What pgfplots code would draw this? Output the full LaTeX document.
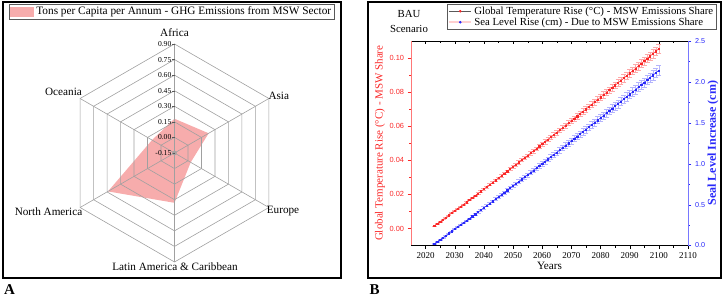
\documentclass[border=0pt]{standalone}
\usepackage{fontspec}
\setmainfont{Liberation Serif}
\setsansfont{Liberation Sans}
\usepackage{pgfplots}
\pgfplotsset{compat=1.18}
\usepackage{pgfplotstable}
\definecolor{pinkfill}{RGB}{247,172,172}
\definecolor{gridgray}{RGB}{160,160,160}
\definecolor{myred}{RGB}{250,40,40}
\definecolor{myredl}{RGB}{255,120,120}
\definecolor{myblue}{RGB}{40,40,250}
\definecolor{mybluel}{RGB}{120,120,255}
\newcommand{\fs}[1]{\fontsize{#1bp}{#1bp}\selectfont}
\pgfplotsset{/pgf/number format/assume math mode=true}

\pgfplotstableread{
region angle value
Africa 90 0.18
Asia 30 0.23
Europe -30 0.03
LatAm -90 0.33
NorthAm 210 0.59
Oceania 150 0.10
Africa 90 0.18
}\radar

\pgfplotstableread{
year temp sea
2023 0.0015 0.021
2024 0.0028 0.046
2025 0.0040 0.072
2026 0.0053 0.097
2027 0.0065 0.123
2028 0.0078 0.149
2029 0.0091 0.175
2030 0.0103 0.200
2031 0.0116 0.226
2032 0.0129 0.252
2033 0.0141 0.278
2034 0.0154 0.304
2035 0.0167 0.330
2036 0.0180 0.357
2037 0.0193 0.383
2038 0.0205 0.409
2039 0.0218 0.435
2040 0.0231 0.462
2041 0.0244 0.488
2042 0.0257 0.515
2043 0.0270 0.541
2044 0.0283 0.568
2045 0.0296 0.594
2046 0.0309 0.621
2047 0.0323 0.648
2048 0.0336 0.675
2049 0.0349 0.702
2050 0.0362 0.728
2051 0.0375 0.755
2052 0.0388 0.782
2053 0.0402 0.809
2054 0.0415 0.837
2055 0.0428 0.864
2056 0.0442 0.891
2057 0.0455 0.918
2058 0.0468 0.946
2059 0.0482 0.973
2060 0.0495 1.000
2061 0.0509 1.028
2062 0.0522 1.055
2063 0.0536 1.083
2064 0.0549 1.111
2065 0.0563 1.138
2066 0.0577 1.166
2067 0.0590 1.194
2068 0.0604 1.222
2069 0.0618 1.250
2070 0.0631 1.278
2071 0.0645 1.306
2072 0.0659 1.334
2073 0.0673 1.362
2074 0.0686 1.390
2075 0.0700 1.418
2076 0.0714 1.447
2077 0.0728 1.475
2078 0.0742 1.503
2079 0.0756 1.532
2080 0.0770 1.560
2081 0.0784 1.589
2082 0.0798 1.618
2083 0.0812 1.646
2084 0.0826 1.675
2085 0.0840 1.704
2086 0.0854 1.732
2087 0.0868 1.761
2088 0.0882 1.790
2089 0.0897 1.819
2090 0.0911 1.848
2091 0.0925 1.877
2092 0.0939 1.906
2093 0.0954 1.936
2094 0.0968 1.965
2095 0.0982 1.994
2096 0.0997 2.024
2097 0.1011 2.053
2098 0.1026 2.082
2099 0.1040 2.112
2100 0.1055 2.141
}\bau

\pgfplotsset{rc/.style={at={(411bp,53.5bp)}, anchor=south west, scale only axis,
  width=277bp, height=204.5bp, xmin=2015, xmax=2110,
  major tick length=3.5bp, minor tick length=2bp}}

\begin{document}
\begin{tikzpicture}
\useasboundingbox (0,0) rectangle (724bp,299bp);
\draw[line width=1.2bp] (3bp,21bp) rectangle (341bp,297bp);
\draw[line width=1.2bp] (368bp,21bp) rectangle (721bp,297bp);
\node[font=\bfseries\fs{15}] at (9.5bp,9bp) {A};
\node[font=\bfseries\fs{15}] at (374.5bp,9bp) {B};

% ---------- Radar chart ----------
\begin{axis}[at={(174.5bp,146bp)}, anchor=center, scale only axis,
  width=218bp, height=218bp, xmin=-1.05, xmax=1.05, ymin=-1.05, ymax=1.05,
  hide axis, clip=false,
  legend style={at={(axis description cs:-0.259,1.183)}, anchor=north west,
    draw=gray!70!black, line width=0.6bp, font=\fs{11.3},
    inner xsep=1bp, inner ysep=0.5bp},
  legend cell align=left]
\addplot[fill=pinkfill, draw=none, data cs=polar,
  legend image code/.code={\fill[pinkfill] (0bp,-5bp) rectangle (24bp,5bp);}]
  table[x=angle, y expr=\thisrow{value}+0.15] {\radar};
\addlegendentry{Tons per Capita per Annum - GHG Emissions from MSW Sector}
\addplot[gridgray, line width=0.6bp, data cs=polar, forget plot] coordinates {(90,1.05)(30,1.05)(-30,1.05)(-90,1.05)(-150,1.05)(150,1.05)(90,1.05)};
\addplot[gridgray, line width=0.6bp, data cs=polar, forget plot] coordinates {(90,0.90)(30,0.90)(-30,0.90)(-90,0.90)(-150,0.90)(150,0.90)(90,0.90)};
\addplot[gridgray, line width=0.6bp, data cs=polar, forget plot] coordinates {(90,0.75)(30,0.75)(-30,0.75)(-90,0.75)(-150,0.75)(150,0.75)(90,0.75)};
\addplot[gridgray, line width=0.6bp, data cs=polar, forget plot] coordinates {(90,0.60)(30,0.60)(-30,0.60)(-90,0.60)(-150,0.60)(150,0.60)(90,0.60)};
\addplot[gridgray, line width=0.6bp, data cs=polar, forget plot] coordinates {(90,0.45)(30,0.45)(-30,0.45)(-90,0.45)(-150,0.45)(150,0.45)(90,0.45)};
\addplot[gridgray, line width=0.6bp, data cs=polar, forget plot] coordinates {(90,0.30)(30,0.30)(-30,0.30)(-90,0.30)(-150,0.30)(150,0.30)(90,0.30)};
\addplot[gridgray, line width=0.6bp, data cs=polar, forget plot] coordinates {(90,0.15)(30,0.15)(-30,0.15)(-90,0.15)(-150,0.15)(150,0.15)(90,0.15)};
\addplot[gridgray, line width=0.6bp, data cs=polar, forget plot] coordinates {(90,1.05)(0,0)(30,1.05)(0,0)(-30,1.05)(0,0)(-90,1.05)(0,0)(-150,1.05)(0,0)(150,1.05)};
\addplot[gridgray, line width=0.6bp, mark=o, mark size=2bp, only marks, forget plot] coordinates {(0,0)};
\draw[gray!70!black] (axis cs:0,1.05) -- ++(-2.5bp,0bp) node[left, black, inner sep=0.5bp, font=\fs{7.6}] {0.90};
\draw[gray!70!black] (axis cs:0,0.90) -- ++(-2.5bp,0bp) node[left, black, inner sep=0.5bp, font=\fs{7.6}] {0.75};
\draw[gray!70!black] (axis cs:0,0.75) -- ++(-2.5bp,0bp) node[left, black, inner sep=0.5bp, font=\fs{7.6}] {0.60};
\draw[gray!70!black] (axis cs:0,0.60) -- ++(-2.5bp,0bp) node[left, black, inner sep=0.5bp, font=\fs{7.6}] {0.45};
\draw[gray!70!black] (axis cs:0,0.45) -- ++(-2.5bp,0bp) node[left, black, inner sep=0.5bp, font=\fs{7.6}] {0.30};
\draw[gray!70!black] (axis cs:0,0.30) -- ++(-2.5bp,0bp) node[left, black, inner sep=0.5bp, font=\fs{7.6}] {0.15};
\draw[gray!70!black] (axis cs:0,0.15) -- ++(-2.5bp,0bp) node[left, black, inner sep=0.5bp, font=\fs{7.6}] {0.00};
\draw[gray!70!black] (axis cs:0,0) -- ++(-2.5bp,0bp) node[left, black, inner sep=0.5bp, font=\fs{7.6}] {-0.15};
\end{axis}
\node[font=\fs{11.2}] at (174.5bp,266bp) {Africa};
\node[font=\fs{11.2}, anchor=west] at (265bp,203bp) {Asia};
\node[font=\fs{11.2}] at (283bp,88bp) {Europe};
\node[font=\fs{11.2}] at (175bp,32bp) {Latin America \& Caribbean};
\node[font=\fs{11.2}] at (48.5bp,87bp) {North America};
\node[font=\fs{11.2}] at (63.5bp,207bp) {Oceania};

% ---------- Line chart ----------
% bottom axis
\begin{axis}[rc, hide y axis, axis x line*=bottom, tick align=outside, ymin=0, ymax=1,
  xtick={2020,2030,2040,2050,2060,2070,2080,2090,2100,2110}, minor x tick num=1,
  x axis line style={black, line width=0.8bp}, tick style={black},
  xticklabel style={font=\fs{9}, /pgf/number format/1000 sep={}},
  xlabel={Years}, xlabel style={font=\fs{11.2}, at={(axis description cs:0.5,-0.102)}, anchor=center}]
\end{axis}
% top axis
\begin{axis}[rc, hide y axis, axis x line*=top, tick align=inside, ymin=0, ymax=1,
  xtick={2020,2030,2040,2050,2060,2070,2080,2090,2100,2110}, minor x tick num=1,
  xticklabels={}, x axis line style={black, line width=0.8bp}, tick style={black}]
\end{axis}
% left (red) axis
\begin{axis}[rc, hide x axis, axis y line*=left, ymin=-0.01, ymax=0.11, tick align=outside,
  ytick={0,0.02,0.04,0.06,0.08,0.1}, minor y tick num=1,
  y axis line style={myredl, line width=0.8bp}, tick style={myred},
  yticklabel style={font=\sffamily\fs{7.4}, color=myred,
    /pgf/number format/.cd, fixed, fixed zerofill, precision=2},
  ylabel={Global Temperature Rise (°C) - MSW Share},
  ylabel style={font=\fs{11}, color=myred, at={(axis description cs:-0.112,0.5)}, anchor=center}]
\addplot[draw=none, mark=none, forget plot,
  error bars/.cd, y dir=both, y fixed relative=0.024,
  error bar style={draw=myred!40, line width=0.5bp},
  error mark options={rotate=90, mark size=2.5bp, line width=0.5bp, draw=myred!40}]
  table[x=year, y=temp] {\bau};
\addplot[myred, line width=0.5bp, mark=square*, mark size=0.6bp, forget plot]
  table[x=year, y=temp] {\bau};
\end{axis}
% right (blue) axis
\begin{axis}[rc, hide x axis, axis y line*=right, ymin=0, ymax=2.5, tick align=outside,
  ytick={0,0.5,1,1.5,2,2.5}, minor y tick num=1,
  y axis line style={mybluel, line width=0.8bp}, tick style={myblue},
  yticklabel style={font=\sffamily\fs{7.2}, color=myblue,
    /pgf/number format/.cd, fixed, fixed zerofill, precision=1},
  ylabel={Seal Level Increase (cm)},
  ylabel style={font=\bfseries\fs{12}, color=myblue, at={(axis description cs:1.090,0.5)}, anchor=center},
  legend style={at={(axis description cs:0.130,1.181)}, anchor=north west,
    draw=gray!70!black, line width=0.5bp, font=\fs{10.8},
    inner xsep=1bp, inner ysep=0.5bp, row sep=-2bp},
  legend cell align=left]
\addlegendimage{legend image code/.code={\draw[gray!70!black, line width=0.5bp] (0bp,0bp) -- (22bp,0bp); \fill[myred] (11bp,0bp) circle (1bp);}}
\addlegendentry{Global Temperature Rise (°C) - MSW Emissions Share}
\addlegendimage{legend image code/.code={\draw[myred!22, line width=2bp] (0bp,0bp) -- (22bp,0bp); \fill[myblue] (11bp,0bp) circle (1bp);}}
\addlegendentry{Sea Level Rise (cm) - Due to MSW Emissions Share}
\addplot[draw=none, mark=none, forget plot,
  error bars/.cd, y dir=both, y fixed relative=0.028,
  error bar style={draw=myblue!35, line width=0.5bp},
  error mark options={rotate=90, mark size=2.5bp, line width=0.5bp, draw=myblue!35}]
  table[x=year, y=sea] {\bau};
\addplot[myblue, line width=0.5bp, mark=square*, mark size=0.6bp, forget plot]
  table[x=year, y=sea] {\bau};
\end{axis}
\node[font=\fs{10.8}] at (409bp,285bp) {BAU};
\node[font=\fs{10.8}] at (409bp,270bp) {Scenario};
\end{tikzpicture}
\end{document}
